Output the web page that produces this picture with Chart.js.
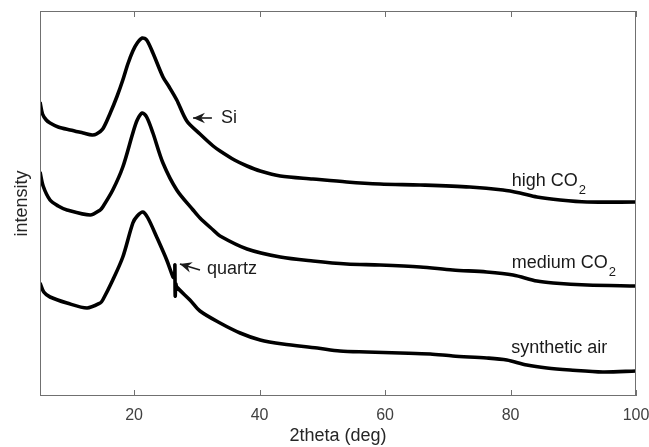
<!DOCTYPE html>
<html>
<head>
<meta charset="utf-8">
<script src="https://cdn.jsdelivr.net/npm/chart.js@4.4.0/dist/chart.umd.min.js"></script>
<style>
  html, body { margin: 0; padding: 0; background: #fff; }
</style>
</head>
<body>
<canvas id="xrd" width="649" height="447"></canvas>
<script>
// tick positions on 2theta axis
const xTicks = [20, 40, 60, 80, 100];

// high CO2 (top trace)
const highX = [5.0, 5.4, 6.0, 6.6, 7.9, 9.8, 11.9, 13.3, 14.0, 15.0, 16.2, 17.3, 18.2, 19.0, 19.8, 20.5, 21.3, 22.0, 23.0, 24.6, 25.6, 26.8, 28.4, 30.5, 32.6, 33.7, 36.0, 38.0, 40.1, 43.3, 48.5, 53.9, 59.2, 65.6, 73.5, 78.8, 81.5, 84.2, 87.9, 92.2, 100];
const highY = [294, 282, 276, 273, 269, 266, 263, 261, 262, 267, 283, 300, 316, 332, 345, 353, 358, 356, 343, 319, 309, 296, 275, 262, 250, 245, 236, 230, 225, 220, 217, 214, 212, 211, 209, 206, 203, 199, 196, 194, 194];

// medium CO2 (middle trace)
const medX = [5.0, 5.5, 6.6, 7.9, 9.3, 13.0, 14.6, 15.0, 16.6, 18.2, 19.8, 20.5, 21.3, 22.0, 23.0, 24.6, 26.8, 29.4, 30.5, 32.6, 33.7, 38.0, 43.3, 48.5, 53.9, 59.2, 65.6, 70.8, 76.2, 80.4, 84.2, 86.8, 92.2, 100];
const medY = [224, 210, 196, 190, 186, 181, 186, 189, 206, 229, 263, 276, 283, 279, 263, 233, 206, 186, 178, 166, 160, 147, 139, 135, 132, 131, 129, 126, 124, 121, 115, 113, 111, 110];

// synthetic air (bottom trace), sharp quartz reflection near 26.5
const airX = [5.0, 5.6, 6.6, 9.3, 12.5, 14.6, 15.0, 16.6, 18.2, 19.8, 20.5, 21.4, 22.2, 23.6, 25.2, 26.2, 26.45, 26.5, 26.55, 26.65, 26.8, 28.9, 30.5, 33.7, 36.9, 40.1, 43.7, 49.2, 52.8, 57.1, 62.4, 67.2, 70.8, 76.2, 79.4, 82.6, 85.8, 89.5, 94.7, 100];
const airY = [113, 104, 99, 93, 88, 93, 96, 116, 139, 173, 180, 184, 178, 159, 136, 119, 118, 131, 100, 112, 109, 96, 85, 73, 63, 56, 52, 48, 45, 44, 43, 42, 40, 38, 36, 31, 28, 26, 24, 25];

function pts(xs, ys) {
  return xs.map((x, i) => ({ x: x, y: ys[i] }));
}

const FONT = '"Liberation Sans", Arial, Helvetica, sans-serif';

// box round the plot + inward ticks top and bottom
const boxPlugin = {
  id: 'box',
  afterDraw(chart) {
    const ctx = chart.ctx;
    const a = chart.chartArea;
    const xs = chart.scales.x;
    ctx.save();
    ctx.strokeStyle = '#707070';
    ctx.lineWidth = 1;
    ctx.strokeRect(a.left + 0.5, a.top + 0.5, a.right - a.left - 1, a.bottom - a.top - 1);
    ctx.beginPath();
    xTicks.forEach(t => {
      const px = Math.round(xs.getPixelForValue(t)) + 0.5;
      ctx.moveTo(px, a.bottom);
      ctx.lineTo(px, a.bottom - 6);
      ctx.moveTo(px, a.top);
      ctx.lineTo(px, a.top + 6);
    });
    ctx.stroke();
    ctx.restore();
  }
};

// labels and arrows, placed in data units
const labelPlugin = {
  id: 'labels',
  afterDatasetsDraw(chart) {
    const ctx = chart.ctx;
    const xs = chart.scales.x, ys = chart.scales.y;
    const X = v => xs.getPixelForValue(v);
    const Y = v => ys.getPixelForValue(v);
    ctx.save();
    ctx.fillStyle = '#1a1a1a';
    ctx.textBaseline = 'alphabetic';
    ctx.textAlign = 'left';

    function sub(main, x, y) {
      ctx.font = '18px ' + FONT;
      ctx.fillText(main, X(x), Y(y));
      const w = ctx.measureText(main).width;
      ctx.font = '13px ' + FONT;
      ctx.fillText('2', X(x) + w + 1, Y(y) + 8);
    }
    sub('high CO', 80.2, 210);
    sub('medium CO', 80.2, 128);
    ctx.font = '18px ' + FONT;
    ctx.fillText('synthetic air', X(80.1), Y(43));
    ctx.fillText('Si', X(33.85), Y(273));
    ctx.fillText('quartz', X(31.6), Y(122));

    function arrow(x1, y1, x0, y0) {
      const tx = X(x0), ty = Y(y0), fx = X(x1), fy = Y(y1);
      const ang = Math.atan2(fy - ty, fx - tx);
      ctx.strokeStyle = '#1a1a1a';
      ctx.lineWidth = 1.6;
      ctx.beginPath();
      ctx.moveTo(fx, fy);
      ctx.lineTo(tx, ty);
      ctx.stroke();
      ctx.beginPath();
      ctx.moveTo(tx + 13 * Math.cos(ang - 0.42), ty + 13 * Math.sin(ang - 0.42));
      ctx.lineTo(tx, ty);
      ctx.lineTo(tx + 13 * Math.cos(ang + 0.42), ty + 13 * Math.sin(ang + 0.42));
      ctx.lineTo(tx + 8 * Math.cos(ang), ty + 8 * Math.sin(ang));
      ctx.closePath();
      ctx.fillStyle = '#1a1a1a';
      ctx.fill();
    }
    arrow(32.4, 278, 29.4, 278);
    arrow(30.5, 126, 27.3, 132);
    ctx.restore();
  }
};

const line = {
  borderColor: '#000',
  borderWidth: 3.6,
  pointRadius: 0,
  fill: false,
  tension: 0.3
};

new Chart(document.getElementById('xrd'), {
  type: 'line',
  data: {
    datasets: [
      Object.assign({ label: 'high CO2', data: pts(highX, highY) }, line),
      Object.assign({ label: 'medium CO2', data: pts(medX, medY) }, line),
      Object.assign({ label: 'synthetic air', data: pts(airX, airY) }, line)
    ]
  },
  options: {
    responsive: false,
    animation: false,
    devicePixelRatio: 1,
    layout: { padding: { top: 11, right: 13, left: 0, bottom: 0 } },
    plugins: { legend: { display: false }, tooltip: { enabled: false } },
    scales: {
      x: {
        type: 'linear',
        min: 5,
        max: 100,
        afterBuildTicks: s => { s.ticks = xTicks.map(v => ({ value: v })); },
        afterFit: s => { s.height = 51; s.paddingLeft = 0; s.paddingRight = 0; },
        grid: { display: false, drawTicks: false },
        border: { display: false },
        ticks: { color: '#404040', padding: 10, font: { size: 16, family: FONT }, maxRotation: 0 },
        title: { display: true, text: '2theta (deg)', color: '#262626', font: { size: 18, family: FONT }, padding: { top: 0, bottom: 0 } }
      },
      y: {
        type: 'linear',
        min: 0,
        max: 385,
        afterFit: s => { s.width = 40; s.paddingTop = 0; s.paddingBottom = 0; },
        grid: { display: false, drawTicks: false },
        border: { display: false },
        ticks: { display: false },
        title: { display: true, text: 'intensity', color: '#262626', font: { size: 18, family: FONT }, padding: { top: 11, bottom: 0 } }
      }
    }
  },
  plugins: [boxPlugin, labelPlugin]
});
</script>
</body>
</html>
